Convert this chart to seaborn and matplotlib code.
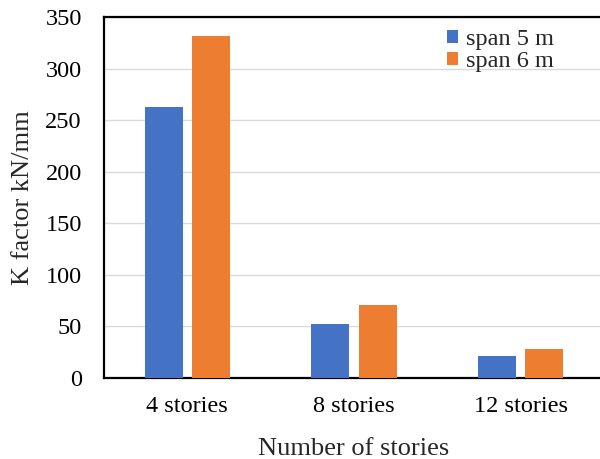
import matplotlib
matplotlib.use("Agg")
import matplotlib.pyplot as plt
import seaborn as sns
import pandas as pd

categories = ["4 stories", "8 stories", "12 stories"]
span_5m = [263, 52, 21]
span_6m = [332, 71, 28]
series_names = ["span 5 m", "span 6 m"]
colors = ["#4472C4", "#ED7D31"]

df = pd.DataFrame({
    "stories": categories * 2,
    "K": span_5m + span_6m,
    "series": [series_names[0]] * 3 + [series_names[1]] * 3,
})

sns.set_style("white")
plt.rcParams["font.family"] = ["Liberation Serif", "DejaVu Serif"]

fig = plt.figure(figsize=(6, 4.59), dpi=100)
ax = fig.add_axes([104 / 600, 81 / 459, 500 / 600, 361 / 459])

sns.barplot(data=df, x="stories", y="K", hue="series", palette=colors,
            width=0.57, gap=0.2, saturation=1, linewidth=0, ax=ax, zorder=3)

ax.set_ylim(0, 350)
ax.set_xlim(-0.5, 2.5)
ax.set_yticks(range(0, 351, 50))
ax.yaxis.grid(True, color="#DADADA", linewidth=1.0, zorder=0)
ax.set_axisbelow(True)

for side in ["left", "bottom", "top"]:
    ax.spines[side].set_visible(True)
    ax.spines[side].set_color("black")
    ax.spines[side].set_linewidth(1.6)
ax.spines["right"].set_visible(False)

ax.tick_params(axis="both", length=0, labelsize=17.5, colors="black")
ax.tick_params(axis="y", pad=16)
ax.tick_params(axis="x", pad=13)

ax.set_xlabel("Number of stories", fontsize=19, labelpad=15)
ax.set_ylabel("K factor kN/mm", fontsize=19, labelpad=8)

ax.legend(loc="upper right", bbox_to_anchor=(0.925, 1.0), frameon=False,
          fontsize=17.5, handlelength=0.45, handleheight=0.45, handletextpad=0.35,
          labelspacing=0.05, borderaxespad=0.1)

fig.savefig("out.png", dpi=100)
